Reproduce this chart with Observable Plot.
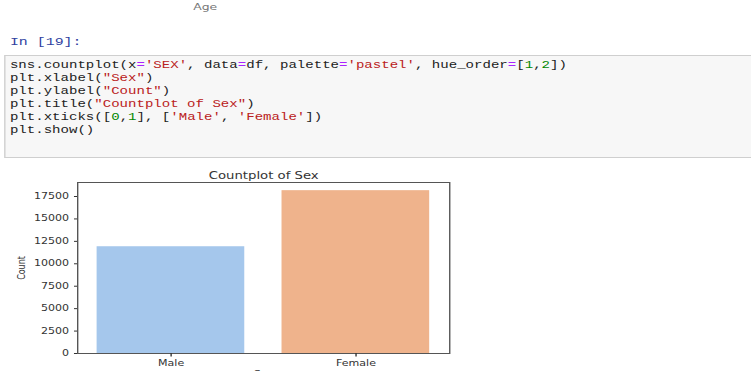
<!DOCTYPE html>
<html><head><meta charset="utf-8">
<script src="https://cdn.jsdelivr.net/npm/d3@7"></script>
<script src="https://cdn.jsdelivr.net/npm/@observablehq/plot@0.6"></script>
<style>
html,body{margin:0;padding:0;background:#fff;overflow:hidden;width:751px;height:371px;}
#stage{position:absolute;left:0;top:0;width:544px;height:400px;transform:scaleX(1.38);transform-origin:0 0;}
#age{position:absolute;left:140px;top:2px;font:9px "DejaVu Sans",sans-serif;color:#777;}
#prompt{position:absolute;left:7.2px;top:36px;font:10.8px/13px "Liberation Mono",monospace;color:#303F9F;}
#cell{position:absolute;left:3px;top:55px;width:600px;height:101px;background:#f7f7f7;border:1px solid #cfcfcf;}
#code{position:absolute;left:3.2px;top:3px;font:10.2px/13px "Liberation Mono",monospace;color:#222;}
#code div{white-space:pre;height:13px;}
.s{color:#BA2121}.n{color:#008800}.o{color:#AA22FF}
#chart{position:absolute;left:0;top:160px;}
</style></head><body>
<div id="stage">
<div id="age">Age</div>
<div id="prompt">In [19]:</div>
<div id="cell"><div id="code">
<div>sns.countplot(x<span class="o">=</span><span class="s">'SEX'</span>, data<span class="o">=</span>df, palette<span class="o">=</span><span class="s">'pastel'</span>, hue_order<span class="o">=</span>[<span class="n">1</span>,<span class="n">2</span>])</div>
<div>plt.xlabel(<span class="s">"Sex"</span>)</div>
<div>plt.ylabel(<span class="s">"Count"</span>)</div>
<div>plt.title(<span class="s">"Countplot of Sex"</span>)</div>
<div>plt.xticks([<span class="n">0</span>,<span class="n">1</span>], [<span class="s">'Male'</span>, <span class="s">'Female'</span>])</div>
<div>plt.show()</div>
</div></div>
<div id="chart"></div>
</div>
<script>
const categories = ["Male", "Female"];
const counts = [11900, 18150];
const barColors = ["#a5c7ec", "#efb38c"];
const yTicks = [0, 2500, 5000, 7500, 10000, 12500, 15000, 17500];
const yMax = 19060;
const titleText = "Countplot of Sex";
const xLabel = "Sex";
const yLabel = "Count";

const data = categories.map((c, i) => ({sex: c, count: counts[i], color: barColors[i]}));

const chart = Plot.plot({
  width: 544, height: 220,
  marginLeft: 55.8, marginRight: 218.6, marginTop: 22, marginBottom: 27,
  style: {fontFamily: "DejaVu Sans, sans-serif", fontSize: "8px", color: "#333", background: "transparent", overflow: "visible"},
  x: {domain: categories, paddingInner: 0.2, paddingOuter: 0.1, label: null},
  y: {domain: [0, yMax], label: null},
  marks: [
    Plot.barY(data, {x: "sex", y: "count", fill: "color"}),
    Plot.frame({stroke: "#555"}),
    Plot.axisX({tickSize: 3.5, tickPadding: 3, label: xLabel, labelAnchor: "center", labelOffset: 23, labelArrow: "none"}),
    Plot.axisY({ticks: yTicks, tickSize: 2.2, tickPadding: 4, tickFormat: d => String(d), label: yLabel, labelAnchor: "center", labelOffset: 44, labelArrow: "none"}),
    Plot.text([titleText], {frameAnchor: "top", lineAnchor: "middle", dy: -7, fontSize: 9.6, fill: "#333", text: d => d})
  ]
});
document.getElementById("chart").appendChild(chart);
</script>
</body></html>
